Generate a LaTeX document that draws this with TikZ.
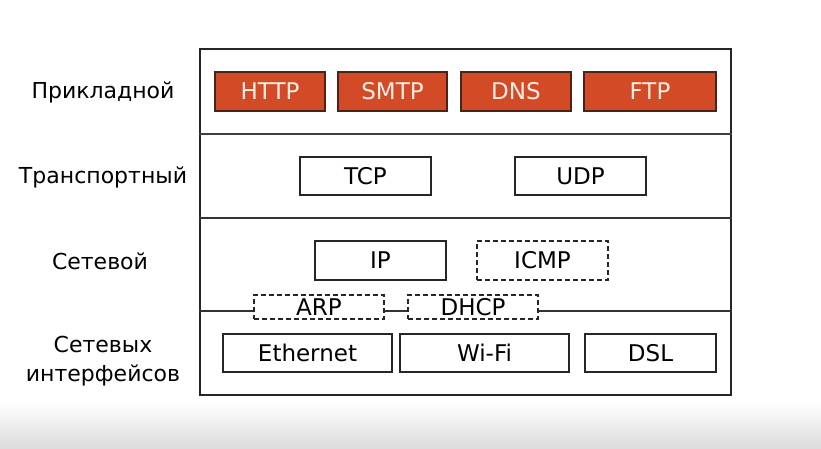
\documentclass[tikz,border=0pt]{standalone}
\usepackage{fontspec}
\setmainfont{DejaVu Sans}
\usepackage{xcolor}
\usepackage{tikz}
\usetikzlibrary{positioning}

\definecolor{appred}{HTML}{D24A26}
\definecolor{appedge}{HTML}{4A2418}
\definecolor{appfg}{HTML}{FBEDE3}

\begin{document}
\begin{tikzpicture}[
  x=1pt, y=-1pt,
  pbox/.style={draw=black!85, line width=1.2pt, minimum width=#1, minimum height=38pt, inner sep=0pt, font=\fontsize{23}{26}\selectfont},
  app/.style={pbox=#1, fill=appred, draw=appedge, text=appfg, minimum height=39pt},
  opt/.style={pbox=#1, dashed, dash pattern=on 5pt off 3pt},
  layer/.style={font=\fontsize{22}{29}\selectfont, align=center},
  sep/.style={draw=black!80, line width=1.5pt}
]
  \useasboundingbox (0,0) rectangle (821,449);
  \shade[top color=white, bottom color=black!14] (0,402) rectangle (821,449);

  % Outer frame
  \node[draw=black!85, line width=1.5pt, minimum width=531pt, minimum height=346pt, inner sep=0pt] (stack) at (465.5,222) {};

  % Layer names (left column)
  \node[layer] (l4) at (103,92)  {Прикладной};
  \node[layer] (l3) at (103,177) {Транспортный};
  \node[layer] (l2) at (100,261) {Сетевой};
  \node[layer] (l1) at (103,361) {Сетевых\\интерфейсов};

  % Application layer
  \node[app=110pt] (http) at (270,91.5)  {HTTP};
  \node[app=109pt] (smtp) at (392.5,91.5) {SMTP};
  \node[app=110pt] (dns)  at (516,91.5)  {DNS};
  \node[app=132pt] (ftp)  at (650,91.5)  {FTP};

  % Transport layer
  \node[pbox=131pt] (tcp) at (365.5,176) {TCP};
  \node[pbox=131pt] (udp) at (580.5,176) {UDP};

  % Network layer
  \node[pbox=131pt, minimum height=39pt] (ip)  at (380.5,260.5) {IP};
  \node[opt=131pt, minimum height=39pt]  (icmp) at (542.5,260.5) {ICMP};
  \node[opt=130pt, minimum height=24pt]  (arp)  at (319,307)   {ARP};
  \node[opt=130pt, minimum height=24pt]  (dhcp) at (473,307)   {DHCP};

  % Link layer
  \node[pbox=169pt] (eth)  at (307.5,353) {Ethernet};
  \node[pbox=169pt] (wifi) at (484.5,353) {Wi-Fi};
  \node[pbox=131pt] (dsl)  at (650.5,353) {DSL};

  % Layer borders
  \draw[sep, line width=2.5pt, draw=black!75] (stack.west |- 0,134) -- (stack.east |- 0,134);
  \draw[sep] (stack.west |- 0,218) -- (stack.east |- 0,218);
  \draw[sep] (stack.west |- 0,311) -- (arp.west |- 0,311);
  \draw[sep] (arp.east |- 0,311) -- (dhcp.west |- 0,311);
  \draw[sep] (dhcp.east |- 0,311) -- (stack.east |- 0,311);

\end{tikzpicture}
\end{document}
